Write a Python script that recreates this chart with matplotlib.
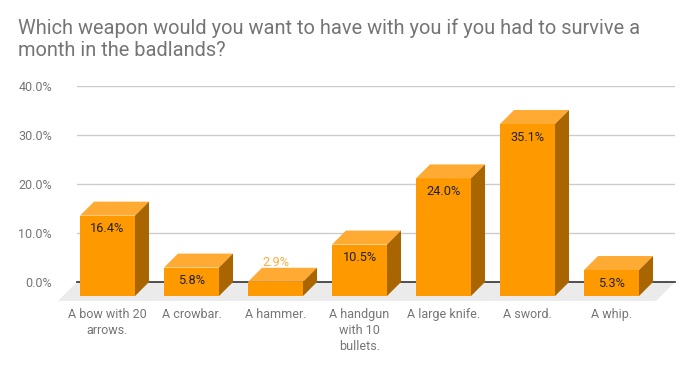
import numpy as np
import matplotlib.pyplot as plt
from matplotlib.patches import Polygon

plt.rcParams["font.family"] = ["Roboto", "DejaVu Sans"]

categories = [
    "A bow with 20\narrows.",
    "A crowbar.",
    "A hammer.",
    "A handgun\nwith 10\nbullets.",
    "A large knife.",
    "A sword.",
    "A whip.",
]
shares = [16.4, 5.8, 2.9, 10.5, 24.0, 35.1, 5.3]
yticks = [0, 10, 20, 30, 40]

front_color = "#ff9900"
top_color = "#ffab33"
side_color = "#a86500"
grey_text = "#757575"

W, H = 694, 371
fig = plt.figure(figsize=(W / 100, H / 100), dpi=100)

# axes box in pixels: gridlines run x 77..675, 0% at y=282, 40% at y=86
left_px, right_px, zero_px, top_px = 77, 675, 282, 86
ax = fig.add_axes([left_px / W, (H - zero_px) / H,
                   (right_px - left_px) / W, (zero_px - top_px) / H])

step_px = 84.0
xmin = (left_px - 121.5) / step_px
xmax = (right_px - 121.5) / step_px
ax.set_xlim(xmin, xmax)
ax.set_ylim(0, 40)

px_x = (right_px - left_px) / (xmax - xmin)
px_y = (zero_px - top_px) / 40.0
dx, dy = 14 / px_x, 14 / px_y
width = 55 / px_x

# floor
fdx, fdy = 19 / px_x, 19 / px_y
ax.add_patch(Polygon([(xmin, 0), (xmax, 0), (xmax - fdx, -fdy), (xmin - fdx, -fdy)],
                     closed=True, facecolor="#ebebeb", edgecolor="none",
                     clip_on=False, zorder=1))
ax.plot([xmin, xmax], [0, 0], color="#333333", lw=1.2, clip_on=False, zorder=2)

x = np.arange(len(shares))
for i, v in zip(x, shares):
    l, r = i - width / 2, i + width / 2
    ax.add_patch(Polygon([(l - dx, -dy), (r - dx, -dy), (r - dx, v - dy), (l - dx, v - dy)],
                         closed=True, facecolor=front_color, edgecolor="none",
                         clip_on=False, zorder=4))
    ax.add_patch(Polygon([(l - dx, v - dy), (r - dx, v - dy), (r, v), (l, v)],
                         closed=True, facecolor=top_color, edgecolor="none",
                         clip_on=False, zorder=4))
    ax.add_patch(Polygon([(r - dx, -dy), (r, 0), (r, v), (r - dx, v - dy)],
                         closed=True, facecolor=side_color, edgecolor="none",
                         clip_on=False, zorder=4))
    if v < 4:
        # too short to hold its label: put it above, in orange
        ax.text(i - dx, v + 5 / px_y, f"{v:.1f}%", ha="center", va="center",
                fontsize=9.2, color="#ffab40", zorder=5)
    else:
        ax.text(i - dx, v - dy - 13 / px_y, f"{v:.1f}%", ha="center", va="center",
                fontsize=9.2, color="#222222", zorder=5)
    ax.text(i - dx, -26 / px_y, categories[i], ha="center", va="top",
            fontsize=9, color=grey_text, linespacing=1.3)

ax.set_yticks(yticks)
ax.set_yticklabels([f"{t:.1f}%" for t in yticks])
ax.set_xticks([])
ax.tick_params(axis="y", length=0, pad=18, labelsize=9, labelcolor=grey_text)
ax.grid(axis="y", color="#cccccc", lw=1)
ax.set_axisbelow(True)
for s in ax.spines.values():
    s.set_visible(False)

fig.text(18 / W, 1 - 18 / H,
         "Which weapon would you want to have with you if you had to survive a\nmonth in the badlands?",
         ha="left", va="top", fontsize=14.4, color=grey_text, linespacing=1.25)

fig.savefig("out.png", dpi=100)
